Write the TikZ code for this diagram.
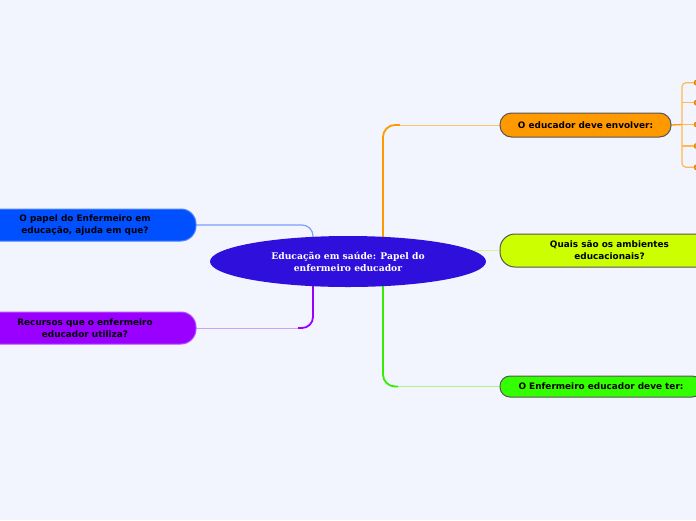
\documentclass[tikz,border=0pt]{standalone}
\usepackage{fontspec}
\setsansfont{DejaVu Sans}
\newfontfamily\centfont{DejaVu Serif}
\usetikzlibrary{shapes.geometric}
\definecolor{bgc}{HTML}{F2F5FE}
\definecolor{centc}{HTML}{2F0FDB}
\definecolor{orangec}{HTML}{FF9900}
\definecolor{orangel}{HTML}{FFC670}
\definecolor{yellowc}{HTML}{CCFF00}
\definecolor{yellowl}{HTML}{DDF28A}
\definecolor{greenc}{HTML}{33FF00}
\definecolor{greenk}{HTML}{33EE00}
\definecolor{greenl}{HTML}{A8F590}
\definecolor{bluec}{HTML}{0050FF}
\definecolor{bluel}{HTML}{7A9EFF}
\definecolor{purplec}{HTML}{9900FF}
\definecolor{purplel}{HTML}{CF9EFF}
\definecolor{borderc}{HTML}{555555}
\pgfdeclarelayer{back}
\pgfdeclarelayer{lines}
\pgfsetlayers{back,lines,main}
\tikzset{
  topic/.style={rectangle, draw=borderc, line width=1pt, align=center, inner sep=0pt,
    font=\fontsize{8.9}{12}\selectfont\sffamily\bfseries, text=black},
  thickline/.style={line width=1.8pt},
  thinline/.style={line width=1pt},
}
\begin{document}
\begin{tikzpicture}[x=1pt,y=-1pt]
\clip (0,0) rectangle (696,520);
\begin{pgfonlayer}{back}
\fill[bgc] (0,0) rectangle (696,520);
\end{pgfonlayer}

% central
\node[ellipse, fill=centc, minimum width=276pt, minimum height=51pt, inner sep=0pt,
  text=white, align=center, font=\fontsize{9.2}{12}\selectfont\centfont\bfseries]
  (cent) at (348,261.5) {Educação em saúde: Papel do\\enfermeiro educador};

% right topics
\node[topic, fill=orangec, minimum width=171pt, minimum height=24pt, rounded corners=11.5pt]
  (orange) at (585.5,125) {O educador deve envolver:};
\node[topic, fill=yellowc, minimum width=219pt, minimum height=33pt, rounded corners=15pt]
  (yellow) at (609.5,250.5) {Quais são os ambientes\\educacionais?};
\node[topic, fill=greenc, minimum width=202pt, minimum height=21pt, rounded corners=10pt]
  (green) at (601,386.5) {O Enfermeiro educador deve ter:};

% left topics
\node[topic, draw=bluec!70!white, fill=bluec, minimum width=222pt, minimum height=32pt, rounded corners=15pt]
  (blue) at (85,225) {O papel do Enfermeiro em\\educação, ajuda em que?};
\node[topic, draw=purplec!70!white, fill=purplec, minimum width=222pt, minimum height=32pt, rounded corners=15pt]
  (purple) at (85,328) {Recursos que o enfermeiro\\educador utiliza?};

% orange leaves (off canvas)
\foreach \i/\yy in {1/82.7,2/102.7,3/124.5,4/146,5/167.3}{
  \node[rectangle, fill=orangec, draw=orangec!80!black, line width=0.6pt, rounded corners=2pt,
    minimum width=20pt, minimum height=5pt, inner sep=0pt, anchor=west] (leaf\i) at (694,\yy) {};
}

\begin{pgfonlayer}{lines}
% anchors on central
\coordinate (co) at (383,240);
\coordinate (cg) at (383,283);
\coordinate (cb) at (313,240);
\coordinate (cp) at (313,283);
\coordinate (ko) at (400,125);
\coordinate (kg) at (398,386.5);
\coordinate (kp) at (298,328);
% orange
\draw[orangec, thickline, rounded corners=12pt] (co) |- (ko);
\draw[orangel, thinline] (ko) -- (orange.west);
% yellow
\draw[yellowl, thinline] (cent.center |- yellow.west) -- (yellow.west);
% green
\draw[greenk, thickline, rounded corners=12pt] (cg) |- (kg);
\draw[greenl, thinline] (kg) -- (green.west);
% blue
\draw[bluel, line width=1.2pt, rounded corners=11pt] (blue.east) -| (cb);
% purple
\draw[purplec, thickline, rounded corners=11pt] (cp) |- (kp);
\draw[purplel, thinline] (kp) -- (purple.east);
% orange bracket
\coordinate (br) at (682,124.5);
\draw[orangec, line width=1.3pt] (orange.east) -- (br);
\draw[orangel!70!orangec, line width=1.2pt, rounded corners=4pt] (leaf1.west) -| (br) |- (leaf5.west);
\draw[orangel!70!orangec, line width=1.2pt] (br) -- (leaf3.west);
\draw[orangel!70!orangec, line width=1.2pt, rounded corners=4pt] (leaf2.west) -- (682,102.7);
\draw[orangel!70!orangec, line width=1.2pt, rounded corners=4pt] (leaf4.west) -- (682,146);
\end{pgfonlayer}
\end{tikzpicture}
\end{document}
